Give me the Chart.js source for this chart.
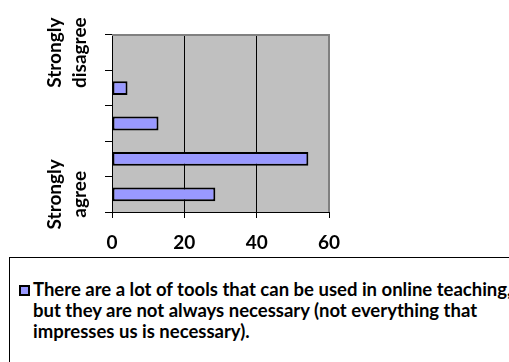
<!DOCTYPE html>
<html>
<head>
<meta charset="utf-8">
<script src="https://cdn.jsdelivr.net/npm/chart.js@4"></script>
<style>
  html, body { margin: 0; padding: 0; background: #fff; overflow: hidden; width: 509px; height: 362px; }
  #wrap { position: absolute; left: 0; top: 0; width: 509px; height: 257px; }
  #legend { position: absolute; left: 9px; top: 257px; width: 560px; height: 140px; border: 1px solid #000; box-sizing: border-box; }
  #swatch { position: absolute; left: 9px; top: 27px; width: 11px; height: 11px; box-sizing: border-box; border: 2px solid #000; }
  #ltext { position: absolute; left: 23px; top: 21px; font-family: Lato, sans-serif; font-weight: bold; font-size: 18.5px; line-height: 21px; color: #000; white-space: nowrap; }
</style>
</head>
<body>
<div id="wrap"><canvas id="c" width="509" height="257"></canvas></div>
<div id="legend"><div id="swatch"></div><div id="ltext"></div></div>
<script>
// ---- data ----
const categories = [["Strongly", "agree"], "", "", "", ["Strongly", "disagree"]];
const values = [28.57, 54.29, 12.86, 4.29, 0];
const xTicks = [0, 20, 40, 60];
const seriesLines = [
  "There are a lot of tools that can be used in online teaching,",
  "but they are not always necessary (not everything that",
  "impresses us is necessary)."
];
const seriesName = seriesLines.join(" ");
const barColor = "#9999ff";

// ---- legend (HTML) ----
document.getElementById("swatch").style.background = barColor;
document.getElementById("ltext").innerHTML = seriesLines.map(s => s.replace(/&/g, "&amp;").replace(/</g, "&lt;")).join("<br>");

const plotBg = {
  id: "plotBg",
  beforeDraw(chart) {
    const a = chart.chartArea, ctx = chart.ctx;
    ctx.save();
    ctx.fillStyle = "#c0c0c0";
    ctx.fillRect(a.left, a.top, a.right - a.left, a.bottom - a.top);
    ctx.restore();
  },
  afterDraw(chart) {
    const a = chart.chartArea, ctx = chart.ctx;
    ctx.save();
    ctx.strokeStyle = "#808080";
    ctx.lineWidth = 2;
    ctx.beginPath();
    ctx.moveTo(a.left, a.top);
    ctx.lineTo(a.right, a.top);
    ctx.lineTo(a.right, a.bottom);
    ctx.stroke();
    ctx.restore();
  }
};

new Chart(document.getElementById("c"), {
  type: "bar",
  data: {
    labels: categories,
    datasets: [{
      label: seriesName,
      data: values,
      backgroundColor: barColor,
      borderColor: "#000",
      borderWidth: 2,
      borderSkipped: false,
      barPercentage: 0.39,
      categoryPercentage: 1
    }]
  },
  options: {
    indexAxis: "y",
    responsive: false,
    devicePixelRatio: 1,
    animation: false,
    layout: { padding: { top: 35, right: 180, left: 0, bottom: 0 } },
    plugins: { legend: { display: false }, tooltip: { enabled: false } },
    scales: {
      x: {
        min: 0, max: 60,
        afterBuildTicks: s => { s.ticks = xTicks.map(v => ({ value: v })); },
        afterFit: s => { s.height = 45; },
        ticks: { color: "#000", font: { family: "Lato", weight: "bold", size: 19 }, padding: 13, maxRotation: 0 },
        grid: {
          color: c => (c.tick && (c.tick.value === 20 || c.tick.value === 40)) ? "#000" : "rgba(0,0,0,0)",
          tickColor: "#000",
          tickLength: 6,
          lineWidth: 1
        },
        border: { color: "#000", width: 1 }
      },
      y: {
        type: "category",
        reverse: true,
        offset: true,
        afterFit: s => { s.width = 112; },
        ticks: {
          color: "#000",
          font: { family: "Lato", weight: "bold", size: 19, lineHeight: 1.3 },
          minRotation: 90, maxRotation: 90,
          crossAlign: "center",
          autoSkip: false,
          padding: 2
        },
        grid: { drawOnChartArea: false, offset: true, color: "#000", tickLength: 7 },
        border: { color: "#000", width: 1 }
      }
    }
  },
  plugins: [plotBg]
});
</script>
</body>
</html>
